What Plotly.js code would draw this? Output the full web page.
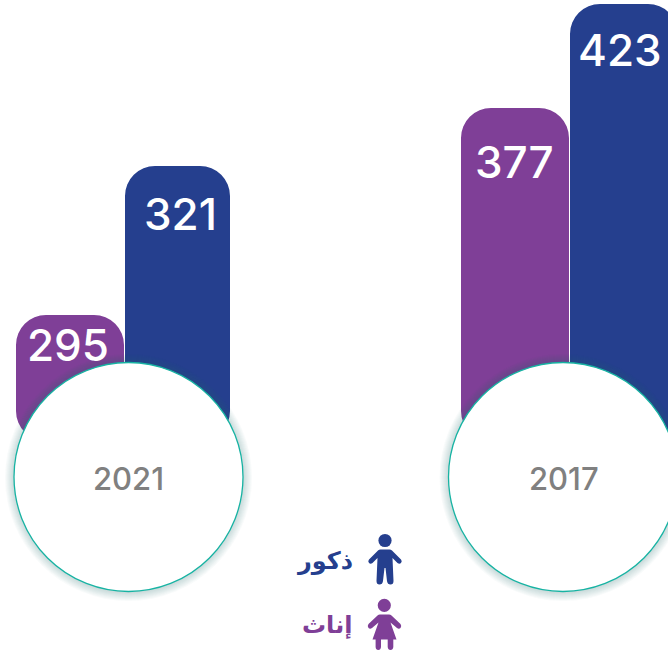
<!DOCTYPE html>
<html><head><meta charset="utf-8">
<script src="https://cdn.plot.ly/plotly-3.0.1.min.js"></script>
<style>html,body{margin:0;padding:0;background:#fff}#c{width:668px;height:655px}</style>
</head><body><div id="c"></div>
<script>
// Data
const years = ['2021', '2017'];
const femaleName = 'إناث';
const maleName = 'ذكور';
const femaleLabels = [295, 377];      // printed values
const maleLabels = [321, 423];
// The source draws bars off-scale: heights as drawn, read in the units of the 377-423 pair
const femaleDrawn = [285.4, 377];
const maleDrawn = [351.3, 423];

// Style / layout constants
const W = 668, H = 655;
const BLUE = '#253f8e', PURPLE = '#7f3f97', TEAL = '#17b3a3', GREY = '#808080';
const BASE = 229.6;
const pxPerCat = 445, zeroPx = 124.5, pxPerUnit = 2.26;
const yTop = 423 + 4 / pxPerUnit, yBottom = 423 - (H - 4) / pxPerUnit;
const FONT = 'Inter, "Open Sans", sans-serif';
const AR = '"DejaVu Sans", "Noto Sans", sans-serif';

const fx = p => p / W, fy = p => 1 - p / H;
function toPaper(path) {
  return path.replace(/(-?[\d.]+),(-?[\d.]+)/g, (m, a, b) => fx(+a).toFixed(5) + ',' + fy(+b).toFixed(5));
}
function bar(name, drawn, color, off, wid) {
  return {
    type: 'bar', name, x: years, y: drawn.map(v => v - BASE), base: BASE,
    offset: off / pxPerCat, width: wid.map(w => w / pxPerCat),
    marker: {color, cornerradius: 30, line: {width: 0}}, hoverinfo: 'skip', showlegend: false
  };
}
const traces = [
  bar(femaleName, femaleDrawn, PURPLE, -108.5, [108, 108]),
  bar(maleName, maleDrawn, BLUE, 0.5, [105, 108])
];

const shapes = [];
[128.5, 563].forEach(cx => {
  const cy = 477, r = 114.5;
  [9, 8, 7, 6, 5, 4, 3, 2, 1].forEach(d => shapes.push({
    type: 'circle', xref: 'paper', yref: 'paper', layer: 'above',
    x0: fx(cx - r - d), x1: fx(cx + r + d), y0: fy(cy + r + d + 0.5), y1: fy(cy - r - d + 0.5),
    fillcolor: 'rgba(50,105,125,0.026)', line: {width: 0}
  }));
  shapes.push({
    type: 'circle', xref: 'paper', yref: 'paper', layer: 'above',
    x0: fx(cx - r), x1: fx(cx + r), y0: fy(cy + r), y1: fy(cy - r),
    fillcolor: '#ffffff', line: {color: TEAL, width: 1.3}
  });
});
function icon(d, color) {
  shapes.push({type: 'path', xref: 'paper', yref: 'paper', layer: 'above', path: toPaper(d), fillcolor: color, line: {width: 0}});
}
function head(cx, cy, r, color) {
  shapes.push({type: 'circle', xref: 'paper', yref: 'paper', layer: 'above',
    x0: fx(cx - r), x1: fx(cx + r), y0: fy(cy + r), y1: fy(cy - r), fillcolor: color, line: {width: 0}});
}
head(385, 540.5, 6.6, BLUE);
icon('M380.5,549.5 L389.5,549.5 Q391,549.5 392,550.5 L401,559.5 Q402.5,561.5 401,563 Q399.5,564.5 397.5,563 L392.5,558 L393.5,581 Q393.5,584.5 390.5,584.5 Q387.5,584.5 387,581 L385.5,568 L384.5,568 L383,581 Q382.5,584.5 379.5,584.5 Q376.5,584.5 376.5,581 L377.5,558 L372.5,563 Q370.5,564.5 369,563 Q367.5,561.5 369,559.5 L378,550.5 Q379,549.5 380.5,549.5 Z', BLUE);
head(384.3, 605.3, 6.6, PURPLE);
icon('M380,614.5 L389,614.5 Q390.5,614.5 391.5,615.5 L400.5,624 Q402,626 400.5,628 Q399,629.5 397,628 L390.5,622.5 L396.5,639.5 L393.3,639.5 L393.3,647 Q393,650 390.5,650 Q388,650 387.7,647 L387.7,639.5 L381,639.5 L381,647 Q380.7,650 378.3,650 Q375.8,650 375.6,647 L375.6,639.5 L372.5,639.5 L378.5,622.5 L372,628 Q370,629.5 368.5,628 Q367,626 368.5,624 L377.5,615.5 Q378.5,614.5 380,614.5 Z', PURPLE);

const annotations = [];
// pixel offsets of each label from the category centre and the bar top
function valueLabels(labels, drawn, xShifts, yShifts) {
  labels.forEach((t, i) => annotations.push({
    xref: 'x', yref: 'y', x: i, y: drawn[i], xanchor: 'center', yanchor: 'middle',
    xshift: xShifts[i], yshift: yShifts[i], showarrow: false, text: String(t),
    font: {family: FONT, size: 44, color: '#ffffff', weight: 500}
  }));
}
valueLabels(femaleLabels, femaleDrawn, [-56.5, -55], [-30, -54]);
valueLabels(maleLabels, maleDrawn, [55.5, 50.5], [-48, -46]);
[128.5, 563.5].forEach((cx, i) => annotations.push({
  xref: 'paper', yref: 'paper', x: fx(cx), y: fy(478), xanchor: 'center', yanchor: 'middle',
  showarrow: false, text: years[i], font: {family: FONT, size: 31, color: GREY, weight: 500}
}));
annotations.push({xref: 'paper', yref: 'paper', x: fx(354.5), y: fy(561), xanchor: 'right', yanchor: 'middle',
  showarrow: false, text: maleName, font: {family: AR, size: 24, color: BLUE, weight: 700}});
annotations.push({xref: 'paper', yref: 'paper', x: fx(353.5), y: fy(625), xanchor: 'right', yanchor: 'middle',
  showarrow: false, text: femaleName, font: {family: AR, size: 24, color: PURPLE, weight: 700}});

const layout = {
  width: W, height: H, margin: {l: 0, r: 0, t: 0, b: 0, pad: 0},
  paper_bgcolor: '#ffffff', plot_bgcolor: '#ffffff', barmode: 'overlay', showlegend: false,
  xaxis: {type: 'category', categoryorder: 'array', categoryarray: years, visible: false, fixedrange: true,
          range: [-zeroPx / pxPerCat, (W - zeroPx) / pxPerCat]},
  yaxis: {visible: false, fixedrange: true, range: [yBottom, yTop]},
  shapes, annotations
};
Plotly.newPlot('c', traces, layout, {displayModeBar: false, staticPlot: true});
</script>
</body></html>
